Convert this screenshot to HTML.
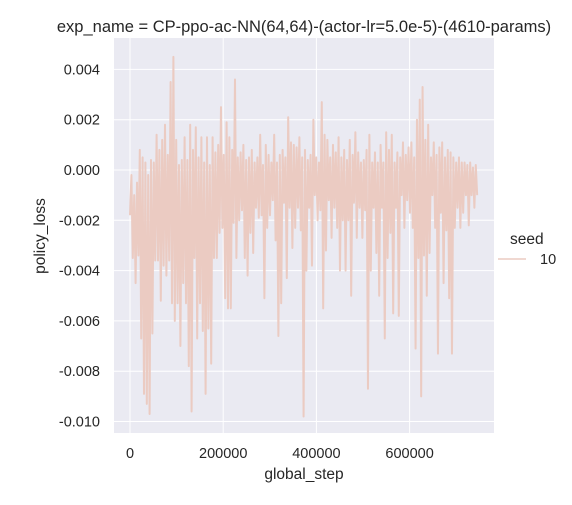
<!DOCTYPE html>
<html><head><meta charset="utf-8"><style>
body{margin:0;background:#fff;}
svg text{font-family:"Liberation Sans","DejaVu Sans",sans-serif;fill:#262626;}
</style></head><body>
<svg width="572" height="500">
<text x="304" y="32" font-size="16.5" text-anchor="middle">exp_name = CP-ppo-ac-NN(64,64)-(actor-lr=5.0e-5)-(4610-params)</text>
<rect x="114" y="38" width="380" height="395" fill="#eaeaf2"/>
<g id="grid"></g><g id="ticks"></g>
<polyline id="series" fill="none" stroke="#ebcbc2" stroke-width="2" stroke-linejoin="round"/>
<text x="304" y="479" font-size="15.5" text-anchor="middle">global_step</text>
<text x="0" y="0" font-size="15.5" text-anchor="middle" transform="translate(45,236) rotate(-90)">policy_loss</text>
<g>
<text x="510" y="244" font-size="15.5">seed</text>
<line x1="498" y1="259" x2="526" y2="259" stroke="#ebcbc2" stroke-width="1.5"/>
<text x="540" y="264" font-size="14.5">10</text>
</g>
</svg>
<script>
const xTicks=[0,200000,400000,600000];
const xTickLabels=["0","200000","400000","600000"];
const yTicks=[0.004,0.002,0,-0.002,-0.004,-0.006,-0.008,-0.010];
const yTickLabels=["0.004","0.002","0.000","-0.002","-0.004","-0.006","-0.008","-0.010"];
const maxStep=745000;
const lossMilli=[
-1.8,-0.2,-3.5,-1,-4.5,-0.5,-3.4,0.8,-6.7,0.5,-8.9,0.3,-9.3,-0.2,-9.7,0.4,-6.5,
0.3,-3.6,1.4,-3.6,0.8,-5.2,1.2,-3.8,1.8,-4.2,0.6,-3.6,3.5,-5.3,4.5,-6,1.2,
-5.3,0.2,-7,0.4,-4.5,1.3,-5.3,0.4,-7.8,1.8,-9.6,0.8,-3.5,1.7,-6.7,0.5,-5.3,
1.3,-6.4,0.3,-8.9,1.3,-6.3,0.2,-7.7,1.3,-3.5,0.7,-3.5,1,-2.5,2.5,-2.3,0.6,
-5.1,1.9,-5.5,1.3,-5.5,0.8,-2.1,3.6,-3.5,0.5,-2,0.7,-1.6,1,-3.5,0.4,-4.2,
0.5,-2.5,0.8,-3.3,0.3,-1.5,0.5,-1.9,1.4,-1.8,0.2,-5.1,1,-2.3,0.6,-1.8,0.3,
-1.2,1.4,-2.8,0.3,-6.6,0.6,-5.3,0.8,-1.3,0.5,-4.3,2.1,-1.5,1.1,-3.1,1,-2.3,
0.9,-1.5,1.3,-2.4,0.5,-9.8,0.8,-4,0.4,-1.5,0.6,-3.8,2,-1,0.5,-2,0.3,
-1.6,2.7,-5.5,1.4,-3.2,1.2,-1.2,0.5,-2.7,1,-1.5,0.7,-2.3,1.3,-4,0.5,-2,
0.8,-4,0.4,-2,1.2,-5,0.6,-1.3,1.5,-2.7,0.7,-1.5,0.3,-2.7,0.4,-1.6,0.8,
-8.7,1.4,-4,0.3,-1.5,0.7,-3.3,0.3,-5,1,-1.5,0.3,-6.7,1.5,-3.5,0.8,-2.5,
1.4,-5.7,0.3,-1.5,0.7,-5.8,0.5,-1,1.1,-2.3,0.6,-1.2,0.9,-1.7,1.1,-2.3,0.5,
-7.1,2,-3.5,2.8,-9,3.3,-3.4,1.2,-5,1.8,-3.3,0.5,-1,1.1,-2.3,0.6,-7.3,
0.9,-1.7,1.1,-4.5,0.5,-2.4,0.8,-5.1,0.7,-7.3,0.5,-2.3,0.3,-1.5,0.5,-2.3,0.3,-1.7,0.3,-1,0.2,-2.2,0.3,-1,0.1,-1.5,0.2,-1
];
const NS="http://www.w3.org/2000/svg";
function xs(v){return 130+v*93.2/200000;}
function ys(v){return 170-v*50.3/0.002;}
const grid=document.getElementById('grid'),ticks=document.getElementById('ticks');
xTicks.forEach((t,i)=>{
 const l=document.createElementNS(NS,'line');
 l.setAttribute('x1',xs(t));l.setAttribute('x2',xs(t));l.setAttribute('y1',38);l.setAttribute('y2',433);
 l.setAttribute('stroke','#fff');l.setAttribute('stroke-width','1');
 
 
 grid.appendChild(l);
 const tx=document.createElementNS(NS,'text');
 tx.setAttribute('x',xs(t));tx.setAttribute('y',458);tx.setAttribute('font-size','14.5');tx.setAttribute('text-anchor','middle');
 tx.textContent=xTickLabels[i];
 
 
 ticks.appendChild(tx);
});
yTicks.forEach((t,i)=>{
 const l=document.createElementNS(NS,'line');
 l.setAttribute('x1',114);l.setAttribute('x2',494);l.setAttribute('y1',ys(t));l.setAttribute('y2',ys(t));
 l.setAttribute('stroke','#fff');l.setAttribute('stroke-width','1');
 
 
 grid.appendChild(l);
 const tx=document.createElementNS(NS,'text');
 tx.setAttribute('x',100);tx.setAttribute('y',ys(t)+5);tx.setAttribute('font-size','14.5');tx.setAttribute('text-anchor','end');
 tx.textContent=yTickLabels[i];
 
 
 ticks.appendChild(tx);
});
const n=lossMilli.length;
document.getElementById('series').setAttribute('points',lossMilli.map((v,i)=>xs(i*maxStep/(n-1)).toFixed(2)+','+ys(v/1000).toFixed(2)).join(' '));
</script>
</body></html>
